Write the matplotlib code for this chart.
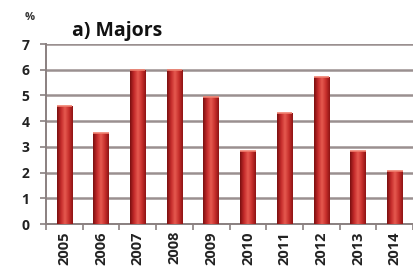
import numpy as np
import matplotlib
matplotlib.use("Agg")
import matplotlib.pyplot as plt
from matplotlib.colors import LinearSegmentedColormap

years = ["2005", "2006", "2007", "2008", "2009", "2010", "2011", "2012", "2013", "2014"]
values = [4.6, 3.55, 6.0, 6.0, 4.95, 2.85, 4.3, 5.7, 2.85, 2.07]

fig = plt.figure(figsize=(4.14, 2.70), dpi=100)
fig.patch.set_facecolor("white")
ax = fig.add_axes([0.111, 0.170, 0.887, 0.667])

x = np.arange(len(years))
w = 0.42
bars = ax.bar(x, values, width=w, color="none", zorder=3)

# cylinder-like shading: horizontal gradient clipped to each bar
cyl = LinearSegmentedColormap.from_list(
    "cyl", ["#7A1010", "#C42A2A", "#E65A50", "#C8302C", "#8E1414"])
grad = np.linspace(0, 1, 64).reshape(1, -1)
for b, v in zip(bars, values):
    x0 = b.get_x()
    im = ax.imshow(grad, extent=[x0, x0 + w, 0, v], cmap=cyl, aspect="auto",
                   zorder=3, interpolation="bilinear")
    im.set_clip_path(b)
    ax.plot([x0, x0 + w], [v, v], color="#F08070", lw=1.2, zorder=4,
            solid_capstyle="butt")

ax.set_xlim(-0.5, len(years) - 0.5)
ax.set_ylim(0, 7)
ax.set_yticks(range(0, 8))
ax.yaxis.grid(True, color="#9A9090", lw=1.8, zorder=0)
ax.set_axisbelow(True)

ax.set_xticks(x)
ax.set_xticklabels(years, rotation=90, fontsize=10.5, fontweight="bold",
                   family="Open Sans", color="#222222")
ax.set_xticks(np.arange(-0.5, len(years), 1), minor=True)
ax.tick_params(axis="x", which="major", length=0, pad=5)
ax.tick_params(axis="x", which="minor", length=4, color="#8A8080", width=1.2)
ax.tick_params(axis="y", length=4, color="#8A8080", width=1.2, pad=8,
               labelsize=10)
for t in ax.get_yticklabels():
    t.set_fontweight("bold"); t.set_family("Open Sans"); t.set_color("#222222")

for s in ["top", "right"]:
    ax.spines[s].set_visible(False)
ax.spines["left"].set_color("#8A8080"); ax.spines["left"].set_linewidth(1.4)
ax.spines["bottom"].set_color("#8A8080"); ax.spines["bottom"].set_linewidth(1.4)

fig.text(0.072, 0.935, "%", fontsize=8, fontweight="bold", family="Open Sans",
         color="#333333", ha="center", va="center")
fig.text(0.175, 0.885, "a) Majors", fontsize=14, fontweight="bold",
         family="Open Sans", color="#111111", ha="left", va="center")

fig.savefig("out.png", dpi=100, facecolor="white")
